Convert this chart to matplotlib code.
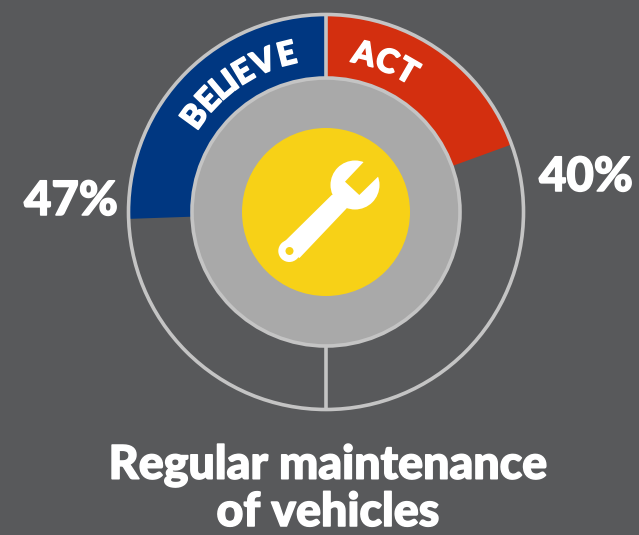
import numpy as np
import matplotlib
matplotlib.use('Agg')
import matplotlib.pyplot as plt
from matplotlib.patches import Wedge, Circle, Polygon
import matplotlib.patheffects as pe

# values
labels = ['BELIEVE', 'ACT']
percent = [47, 40]
# how far each coloured wedge runs from 12 o'clock, degrees
sweep = [92, 70]
colors = ['#003781', '#d32f0f']
title_lines = ['Regular maintenance', 'of vehicles']

believe_angles = [-54, -46.4, -40.2, -35.9, -30.6, -22.6, -14]
act_angles = [13.5, 22, 30]

bg = '#58595b'
ring = '#c4c4c4'
cx, cy = 326, 212
r_out, r_in, r_sun = 197.5, 134, 84
font = 'Lato'
# Lato is lighter than the original face, so fatten it a bit
fat = [pe.withStroke(linewidth=1.1, foreground='white')]

fig = plt.figure(figsize=(6.39, 5.35), dpi=100, facecolor=bg)
ax = fig.add_axes([0, 0, 1, 1])
ax.set_xlim(0, 639)
ax.set_ylim(535, 0)
ax.axis('off')

# y axis is flipped, so angles in Wedge run clockwise from 3 o'clock
ax.add_patch(Wedge((cx, cy), r_out, 270 - sweep[0], 270, width=r_out - r_in,
                   fc=colors[0], ec='none'))
ax.add_patch(Wedge((cx, cy), r_out, 270, 270 + sweep[1], width=r_out - r_in,
                   fc=colors[1], ec='none'))

# outline rings and the dividers
ax.add_patch(Circle((cx, cy), r_out, fc='none', ec=ring, lw=2.6))
ax.plot([cx, cx], [cy - r_out, cy - r_in], color=ring, lw=2.6, solid_capstyle='butt')
ax.plot([cx, cx], [cy + r_in, cy + r_out], color=ring, lw=2.6, solid_capstyle='butt')
ax.add_patch(Circle((cx, cy), r_in, fc='#a9a9a9', ec=ring, lw=2.6))
ax.add_patch(Circle((cx, cy), r_sun, fc='#f7d117', ec='none'))

# wrench
white = 'white'
ax.add_patch(Circle((355, 185), 24.5, fc=white, ec='none'))
ax.add_patch(Polygon([(331.7, 195), (280, 246), (299.5, 258), (346.7, 208.3), (356, 190)],
                     fc=white, ec='none'))
ax.add_patch(Circle((289.3, 251), 11, fc=white, ec='none'))
ax.add_patch(Circle((289.5, 251), 4, fc='#f7d117', ec='none'))
ax.add_patch(Polygon([(345, 181.7), (359.3, 195), (390, 165), (375, 150)],
                     fc='#f7d117', ec='none'))


# curved labels, one letter at a time
def curved(word, angles, r=161.5):
    for ch, a in zip(word, angles):
        t = np.radians(a)
        x = cx + r * np.sin(t)
        y = cy - r * np.cos(t)
        ax.text(x, y, ch, color='white', fontsize=23.5, fontweight='black', family=font,
                rotation=-a, rotation_mode='anchor', ha='center', va='center',
                path_effects=fat)


curved(labels[0], believe_angles)
curved(labels[1], act_angles)

ax.text(71, 201, f'{percent[0]}%', color='white', fontsize=34, fontweight='black',
        family=font, ha='center', va='center', path_effects=fat)
ax.text(586, 177, f'{percent[1]}%', color='white', fontsize=34, fontweight='black',
        family=font, ha='center', va='center', path_effects=fat)

ax.text(328, 465, title_lines[0], color='white', fontsize=33.5, fontweight='black',
        family=font, ha='center', va='center', path_effects=fat)
ax.text(328, 512, title_lines[1], color='white', fontsize=33.5, fontweight='black',
        family=font, ha='center', va='center', path_effects=fat)

fig.savefig('out.png', dpi=100, facecolor=bg)
